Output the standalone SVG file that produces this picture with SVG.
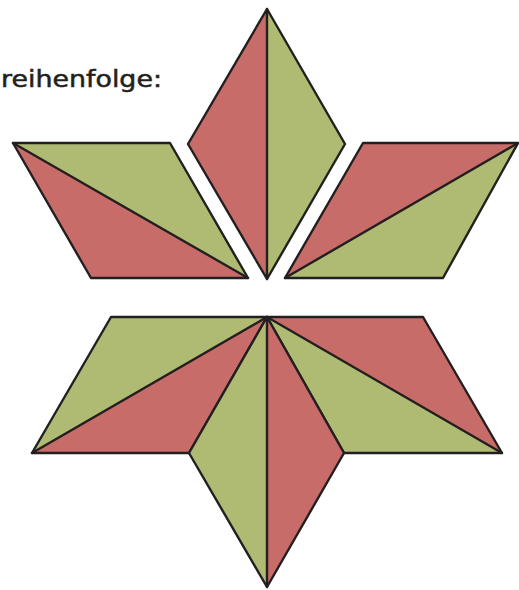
<svg xmlns="http://www.w3.org/2000/svg" width="519" height="590" viewBox="0 0 519 590">
<style>
.r{fill:#C86C69}
.g{fill:#AFBB72}
.s{fill:none;stroke:#231F20;stroke-width:2.4;stroke-linejoin:round;stroke-linecap:round}
.t{font-family:"DejaVu Sans",sans-serif;font-size:23px;fill:#231F20;stroke:#231F20;stroke-width:0.5}
</style>
<rect width="519" height="590" fill="#fff"/>
<text class="t" x="1" y="87" textLength="161" lengthAdjust="spacingAndGlyphs">reihenfolge:</text>
<g id="top">
<polygon class="r" points="267,9 188,144 267,279"/>
<polygon class="g" points="267,9 345,144 267,279"/>
<polygon class="s" points="267,9 345,144 267,279 188,144"/>
<line class="s" x1="267" y1="9" x2="267" y2="279"/>
</g>
<g id="left">
<polygon class="g" points="13,143 170,143 248,278"/>
<polygon class="r" points="13,143 248,278 91,278"/>
<polygon class="s" points="13,143 170,143 248,278 91,278"/>
<line class="s" x1="13" y1="143" x2="248" y2="278"/>
</g>
<g id="right">
<polygon class="r" points="285,278 363,143 518,143"/>
<polygon class="g" points="285,278 518,143 443,278"/>
<polygon class="s" points="285,278 363,143 518,143 443,278"/>
<line class="s" x1="285" y1="278" x2="518" y2="143"/>
</g>
<g id="bottom-left">
<polygon class="g" points="267,317 111,317 32,453"/>
<polygon class="r" points="267,317 32,453 189,453"/>
<polygon class="s" points="267,317 111,317 32,453 189,453"/>
<line class="s" x1="267" y1="317" x2="32" y2="453"/>
</g>
<g id="bottom-right">
<polygon class="r" points="267,317 423,317 502,453"/>
<polygon class="g" points="267,317 502,453 344,453"/>
<polygon class="s" points="267,317 423,317 502,453 344,453"/>
<line class="s" x1="267" y1="317" x2="502" y2="453"/>
</g>
<g id="bottom">
<polygon class="g" points="267,317 189,453 267,587"/>
<polygon class="r" points="267,317 344,453 267,587"/>
<polygon class="s" points="267,317 344,453 267,587 189,453"/>
<line class="s" x1="267" y1="317" x2="267" y2="587"/>
</g>
</svg>
